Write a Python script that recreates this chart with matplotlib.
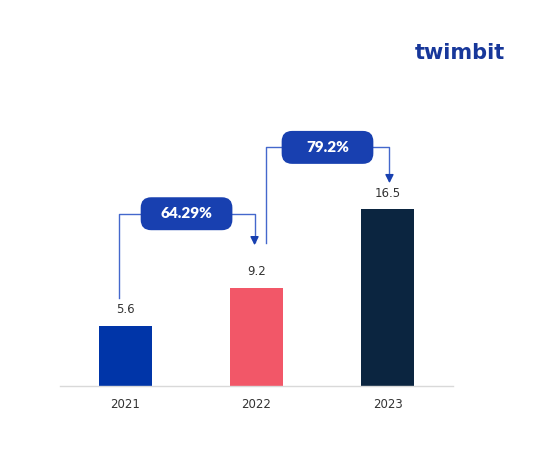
import matplotlib.pyplot as plt
from matplotlib.patches import FancyBboxPatch

years = ['2021', '2022', '2023']
values = [5.6, 9.2, 16.5]
bar_colors = ['#0035A8', '#F25768', '#0B2540']
growth_labels = ['64.29%', '79.2%']

box_color = '#1840B0'
line_color = '#4468CC'
text_color = '#333333'

# connector geometry: (x start, y start, level, x end, y arrow tip, box centre x)
connectors = [
    (-0.05, 8.2, 16.1, 0.985, 12.9, 0.466),
    (1.07, 13.4, 22.3, 2.015, 18.7, 1.542),
]

fig = plt.figure(figsize=(5.57, 4.72), dpi=100)
ax = fig.add_axes([60 / 557, 86 / 472, 393 / 557, 321 / 472])
x = range(len(years))
ax.bar(x, values, width=0.41, color=bar_colors, zorder=2)
for i, v in zip(x, values):
    ax.text(i, v + 0.9, f'{v:g}', ha='center', va='bottom', fontsize=8.5, color=text_color)

ax.set_xlim(-0.5, 2.5)
ax.set_ylim(0, 30)
ax.set_xticks(list(x))
ax.set_xticklabels(years, fontsize=8.5, color=text_color)
ax.tick_params(axis='x', length=0, pad=9)
ax.set_yticks([])
for s in ['top', 'right', 'left']:
    ax.spines[s].set_visible(False)
ax.spines['bottom'].set_color('#d9d9d9')
ax.spines['bottom'].set_linewidth(1)

# px per data unit, used to keep rounded corners circular
aspect = (393 / 3) / (321 / 30)
for (x0, y0, lvl, x1, tip, bx), lab in zip(connectors, growth_labels):
    ax.plot([x0, x0, x1, x1], [y0, lvl, lvl, tip + 0.6], color=line_color, lw=1, zorder=3)
    ax.annotate('', xy=(x1, tip), xytext=(x1, tip + 1.2),
                arrowprops=dict(arrowstyle='-|>,head_length=0.5,head_width=0.25',
                                color=box_color, lw=1), zorder=4)
    w, h = 0.70, 3.08
    box = FancyBboxPatch((bx - w / 2 + 0.08, lvl - h / 2 + 0.08 * aspect), w - 0.16, h - 0.16 * aspect,
                         boxstyle='round,pad=0.08', mutation_aspect=aspect,
                         fc=box_color, ec='none', zorder=5)
    ax.add_patch(box)
    ax.text(bx, lvl, lab, ha='center', va='center', color='white', fontsize=11,
            fontweight='heavy', family='Lato', zorder=6)

fig.text(460 / 557, 1 - 53 / 472, 'twimbit', ha='center', va='center', fontsize=15,
         fontweight='bold', color='#17379A')

fig.savefig('out.png', dpi=100)
